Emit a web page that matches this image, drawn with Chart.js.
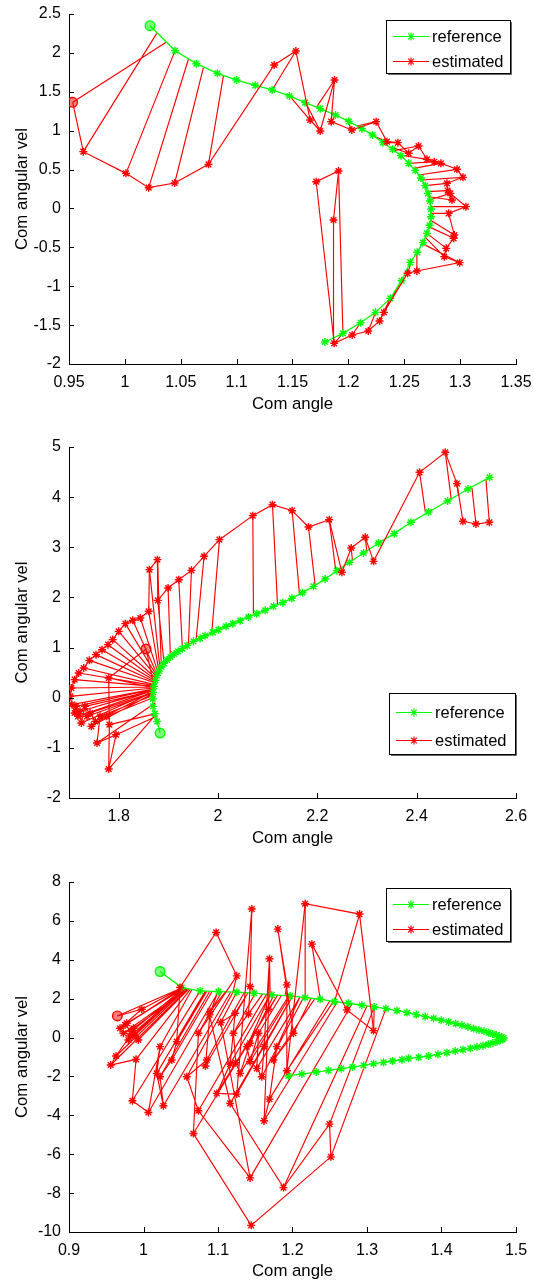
<!DOCTYPE html>
<html>
<head>
<meta charset="utf-8">
<script src="https://cdn.jsdelivr.net/npm/chart.js@4.4.0/dist/chart.umd.min.js"></script>
<style>
html,body{margin:0;padding:0;background:#fff;}
canvas{position:absolute;left:0;}
</style>
</head>
<body>
<canvas id="c1" width="534" height="428" style="top:0px"></canvas>
<canvas id="c2" width="534" height="428" style="top:428px"></canvas>
<canvas id="c3" width="534" height="428" style="top:856px"></canvas>
<script>
// ---------------- Plot 1 data ----------------
const p1RefX = [1.0225,1.0449,1.0640,1.0828,1.0999,1.1166,1.1318,1.1473,1.1613,1.1748,1.1885,1.2004,1.2121,1.2216,1.2309,1.2396,1.2470,1.2539,1.2599,1.2649,1.2688,1.2712,1.2730,1.2739,1.2739,1.2727,1.2703,1.2667,1.2616,1.2554,1.2476,1.2375,1.2243,1.2109,1.1951,1.1790];
const p1RefY = [2.350,2.029,1.861,1.737,1.651,1.583,1.523,1.446,1.360,1.283,1.201,1.120,1.026,0.944,0.846,0.760,0.679,0.580,0.490,0.391,0.293,0.194,0.096,-0.007,-0.106,-0.217,-0.320,-0.440,-0.564,-0.693,-0.929,-1.156,-1.336,-1.469,-1.606,-1.717];
const p1EstX = [0.9533,0.9628,1.0010,1.0213,1.0446,1.0748,1.1336,1.1530,1.1658,1.1748,1.1876,1.1846,1.2031,1.2249,1.2345,1.2443,1.2539,1.2628,1.2703,1.2769,1.2828,1.2972,1.3025,1.2882,1.2888,1.2927,1.2912,1.3052,1.2897,1.2948,1.2942,1.2876,1.2858,1.2996,1.2613,1.2530,1.2318,1.2279,1.2178,1.2034,1.1873,1.1712,1.1912,1.1867];
const p1EstY = [1.364,0.730,0.451,0.267,0.327,0.567,1.844,2.024,1.137,0.996,1.651,1.116,1.009,1.116,0.859,0.846,0.709,0.803,0.631,0.601,0.580,0.503,0.400,0.323,0.229,0.109,0.194,0.023,-0.063,-0.341,-0.384,-0.513,-0.620,-0.697,-0.804,-0.834,-1.336,-1.447,-1.576,-1.627,-1.734,0.344,0.481,-0.149];
const p1LinkX = [1.0369,1.0285,1.0449,1.0569,1.0703,1.0882,null,1.1318,1.1473,1.1613,1.1718,1.1885,1.1987,1.2076,1.2225,1.2309,1.2375,1.2404,1.2464,1.2539,1.2584,1.2628,1.2658,1.2688,1.2703,1.2718,1.2727,1.2733,1.2739,1.2733,1.2718,1.2703,1.2688,1.2658,1.2613,1.2569,1.2494,1.2375,1.2243,1.2109,1.1951,null,1.1951,1.1867];
const p1LinkY = [2.136,2.251,2.029,1.921,1.814,1.707,null,1.523,1.446,1.373,1.309,1.201,1.137,1.060,0.931,0.846,0.794,0.743,0.687,0.580,0.516,0.430,0.366,0.293,0.216,0.151,0.109,0.023,-0.063,-0.149,-0.234,-0.320,-0.371,-0.449,-0.564,-0.663,-0.877,-1.156,-1.336,-1.469,-1.606,null,-1.606,-1.720];
const p1XTicks = [0.95,1,1.05,1.1,1.15,1.2,1.25,1.3,1.35];
const p1XLabels = ['0.95','1','1.05','1.1','1.15','1.2','1.25','1.3','1.35'];
const p1YTicks = [-2,-1.5,-1,-0.5,0,0.5,1,1.5,2,2.5];
const p1YLabels = ['-2','-1.5','-1','-0.5','0','0.5','1','1.5','2','2.5'];

// ---------------- Plot 2 data ----------------
const p2RefX = [1.8834,1.8773,1.8726,1.8693,1.8686,1.8693,1.8713,1.8740,1.8773,1.8813,1.8860,1.8914,1.8975,1.9042,1.9116,1.9196,1.9284,1.9378,1.9505,1.9640,1.9740,1.9895,2.0009,2.0163,2.0298,2.0446,2.0613,2.0781,2.0949,2.1117,2.1305,2.1487,2.1701,2.1923,2.2158,2.2393,2.2648,2.2931,2.3233,2.3548,2.3884,2.4240,2.4623,2.5033,2.5469];
const p2RefY = [-0.704,-0.471,-0.318,-0.172,-0.026,0.107,0.227,0.346,0.446,0.533,0.613,0.686,0.753,0.812,0.872,0.925,0.978,1.038,1.124,1.184,1.237,1.304,1.357,1.424,1.477,1.537,1.610,1.676,1.743,1.822,1.896,1.982,2.095,2.221,2.368,2.534,2.700,2.886,3.086,3.272,3.498,3.704,3.923,4.162,4.395];
const p2EstX = [1.8551,1.7799,1.7813,1.7799,1.7947,1.7564,1.7625,1.7759,1.7450,1.7531,1.7423,1.7363,1.7322,1.7249,1.7222,1.7181,1.7141,1.7114,1.7060,1.7027,1.7047,1.7114,1.7195,1.7296,1.7410,1.7544,1.7665,1.7786,1.7880,1.8001,1.8135,1.8283,1.8437,1.8605,1.8619,1.8780,1.8787,1.8995,1.9210,1.9465,1.9720,2.0029,2.0701,2.1097,2.1493,2.1822,2.2239,2.2494,2.2682,2.2964,2.3132,2.4059,2.4576,2.4811,2.4932,2.5194,2.5463];
const p2EstY = [0.972,0.393,-0.537,-1.422,-0.737,-0.903,-0.371,-0.371,-0.571,-0.471,-0.305,-0.371,-0.172,-0.504,-0.271,-0.371,-0.172,-0.305,-0.139,0.028,0.194,0.360,0.493,0.593,0.745,0.859,0.958,1.058,1.158,1.324,1.477,1.543,1.590,1.723,2.554,2.753,1.942,2.188,2.354,2.540,2.820,3.152,3.631,3.850,3.730,3.405,3.551,2.501,2.986,3.199,2.720,4.495,4.894,4.269,3.518,3.464,3.498];
const p2LinkX = [1.8719,1.8726,1.8753,1.8746,1.8766,1.8733,1.8726,1.8740,1.8713,1.8713,1.8706,1.8699,1.8706,1.8699,1.8699,1.8693,1.8699,1.8693,1.8699,1.8706,1.8713,1.8719,1.8726,1.8733,1.8740,1.8746,1.8753,1.8760,1.8766,1.8773,1.8780,1.8787,1.8800,1.8813,1.8834,1.8860,1.8914,1.9042,1.9284,1.9404,1.9559,1.9875,2.0714,2.1198,2.1641,2.1957,2.2373,null,2.2709,2.2998,null,2.4173,2.4697,2.4845,null,2.5113,2.5395];
const p2LinkY = [0.194,0.194,-0.318,-0.338,-0.371,-0.105,0.060,0.020,0.094,0.127,0.110,0.094,0.140,0.127,0.150,0.147,0.170,0.161,0.174,0.194,0.214,0.227,0.240,0.260,0.293,0.307,0.327,0.347,0.373,0.400,0.413,0.440,0.480,0.513,0.559,0.613,0.686,0.812,0.978,1.045,1.158,1.304,1.656,1.856,2.055,2.235,2.520,null,2.720,2.906,null,3.717,3.950,4.029,null,4.182,4.349];
const p2XTicks = [1.8,2,2.2,2.4,2.6];
const p2XLabels = ['1.8','2','2.2','2.4','2.6'];
const p2YTicks = [-2,-1,0,1,2,3,4,5];
const p2YLabels = ['-2','-1','0','1','2','3','4','5'];

// ---------------- Plot 3 data ----------------
const p3RefX = [1.0222,1.0513,1.0760,1.1006,1.1252,1.1485,1.1722,1.1969,1.2170,1.2372,1.2564,1.2752,1.2931,1.3097,1.3254,1.3402,1.3536,1.3661,1.3782,1.3894,1.3997,1.4096,1.4190,1.4275,1.4355,1.4431,1.4503,1.4570,1.4633,1.4687,1.4736,1.4776,1.4808,1.4834,1.4821,1.4790,1.4745,1.4691,1.4628,1.4557,1.4476,1.4387,1.4288,1.4185,1.4073,1.3952,1.3827,1.3693,1.3558,1.3469,1.3343,1.3222,1.3088,1.2954,1.2806,1.2654,1.2484,1.2318,1.2125,1.1946];
const p3RefY = [3.397,2.572,2.400,2.366,2.332,2.280,2.194,2.143,2.057,1.971,1.851,1.765,1.662,1.576,1.490,1.387,1.284,1.181,1.078,0.992,0.889,0.803,0.717,0.631,0.546,0.460,0.391,0.322,0.253,0.185,0.133,0.082,0.030,-0.021,-0.090,-0.142,-0.210,-0.279,-0.348,-0.416,-0.485,-0.554,-0.622,-0.691,-0.777,-0.863,-0.949,-1.018,-1.069,-1.138,-1.206,-1.275,-1.344,-1.430,-1.516,-1.601,-1.687,-1.773,-1.876,-1.962];
const p3EstX = [0.9649,0.9976,0.9685,0.9775,0.9752,0.9842,0.9797,0.9887,0.9730,0.9864,0.9931,0.9819,0.9631,0.9560,0.9900,0.9851,1.0066,1.0222,1.0178,1.0267,1.0222,1.0379,1.0446,1.0491,1.0975,1.1252,1.0737,1.0670,1.1445,1.2515,1.2497,1.1879,1.1163,1.0885,1.0894,1.0831,1.0849,1.0581,1.0737,1.1431,1.1037,1.1230,1.1163,1.0984,1.1252,1.1454,1.1431,1.1409,1.1207,1.1239,1.1297,1.1431,1.1387,1.1431,1.1543,1.1521,1.1588,1.1619,1.1691,1.1678,1.1619,1.1691,1.1790,1.1745,1.2013,1.1803,1.1924,1.1924,1.2170,1.2900,1.3088,1.2730,1.2260];
const p3EstY = [1.112,1.456,0.477,0.734,0.649,0.305,-0.124,0.133,0.219,0.477,-0.124,0.082,-0.949,-1.413,-1.121,-3.250,-3.852,-0.468,-1.842,-3.508,-2.014,-1.155,-0.210,2.572,5.406,3.174,0.219,-4.934,-9.657,-6.136,-4.453,-7.716,-3.388,1.164,1.336,-1.464,-1.155,-2.014,-3.766,-7.218,0.769,1.250,-1.361,-2.872,-2.907,6.609,2.624,1.215,0.219,-1.292,-1.842,-0.296,-0.468,-1.241,0.219,-1.584,-2.014,-0.468,4.050,1.456,-4.281,-3.165,-0.468,-1.155,0.219,5.578,2.710,-1.705,6.884,6.351,0.357,1.422,4.805];
const p3LinkX = [1.0527,1.0527,1.0536,1.0545,1.0527,1.0536,1.0545,1.0558,1.0572,1.0590,1.0607,1.0558,1.0572,1.0590,1.0625,1.0760,1.1006,1.0650,1.0830,1.1170,1.0890,1.0920,1.0850,null,null,1.1200,1.1050,1.1800,null,1.3254,1.3097,1.3000,1.2000,1.1000,1.1100,1.1400,1.1350,1.1200,1.1650,1.2800,1.1250,1.1400,1.1700,1.1800,1.2000,null,1.1500,1.1600,1.1500,1.1800,1.1950,1.1750,1.1700,1.1970,1.1850,1.2100,1.2150,1.2000,1.1700,1.1800,1.2600,1.2500,1.2100,1.2300,1.2250,null,1.1900,1.2550,1.2170,1.2564,1.3097,1.2752,1.2372];
const p3LinkY = [2.572,2.572,2.555,2.538,2.572,2.555,2.538,2.521,2.504,2.486,2.486,2.521,2.504,2.486,2.469,2.400,2.366,2.470,2.390,2.340,2.380,2.370,2.390,null,null,2.335,2.360,2.180,null,1.490,1.576,1.620,2.130,2.370,2.350,2.290,2.300,2.335,2.220,1.740,2.330,2.290,2.200,2.180,2.130,null,2.280,2.250,2.280,2.180,2.150,2.190,2.200,2.140,2.160,2.080,2.070,2.130,2.200,2.180,1.830,1.880,2.080,2.000,2.020,null,2.150,1.860,2.057,1.851,1.576,1.765,1.971];
const p3XTicks = [0.9,1,1.1,1.2,1.3,1.4,1.5];
const p3XLabels = ['0.9','1','1.1','1.2','1.3','1.4','1.5'];
const p3YTicks = [-10,-8,-6,-4,-2,0,2,4,6,8];
const p3YLabels = ['-10','-8','-6','-4','-2','0','2','4','6','8'];

const seriesNames = ['reference','estimated'];
const xTitle = 'Com angle';
const yTitle = 'Com angular vel';

// ---------------- styling / helpers ----------------
const GREEN = '#00ff00', RED = '#ff0000';
const FONT = "'Liberation Sans', Arial, Helvetica, sans-serif";
Chart.defaults.font.family = FONT;
Chart.defaults.font.size = 16;
Chart.defaults.color = '#000';

function pts(xs, ys) { return xs.map((x, i) => ({x: x, y: ys[i]})); }
function linkPts(ex, ey, lx, ly) {
  const out = [];
  ex.forEach((x, i) => {
    if (lx[i] === null) return;
    out.push({x: x, y: ey[i]}, {x: lx[i], y: ly[i]}, {x: x, y: null});
  });
  return out;
}

const inwardTicks = {
  id: 'inwardTicks',
  afterDatasetsDraw(chart) {
    const {ctx, chartArea: a, scales} = chart;
    ctx.save();
    ctx.strokeStyle = '#000';
    ctx.lineWidth = 1;
    ctx.beginPath();
    scales.x.ticks.forEach(t => {
      const px = Math.round(scales.x.getPixelForValue(t.value)) + 0.5;
      ctx.moveTo(px, a.bottom); ctx.lineTo(px, a.bottom - 5);
    });
    scales.y.ticks.forEach(t => {
      const py = Math.round(scales.y.getPixelForValue(t.value)) + 0.5;
      ctx.moveTo(a.left, py); ctx.lineTo(a.left + 5, py);
    });
    ctx.stroke();
    ctx.restore();
  }
};

const boxLegend = {
  id: 'boxLegend',
  afterDraw(chart, args, o) {
    const ctx = chart.ctx;
    const items = chart.data.datasets.filter(d => d.label);
    ctx.save();
    ctx.fillStyle = '#fff';
    ctx.fillRect(o.x, o.y, o.w, o.h);
    ctx.strokeStyle = '#000';
    ctx.lineWidth = 1;
    ctx.strokeRect(o.x + 0.5, o.y + 0.5, o.w, o.h);
    ctx.strokeStyle = '#666';
    ctx.beginPath();
    ctx.moveTo(o.x + o.w + 1.5, o.y + 2); ctx.lineTo(o.x + o.w + 1.5, o.y + o.h + 1.5); ctx.lineTo(o.x + 2, o.y + o.h + 1.5);
    ctx.stroke();
    items.forEach((d, i) => {
      const cy = o.y + o.rows[i];
      ctx.strokeStyle = d.borderColor;
      ctx.lineWidth = 1.2;
      ctx.beginPath();
      ctx.moveTo(o.x + 7, cy + 0.5); ctx.lineTo(o.x + 43, cy + 0.5);
      ctx.stroke();
      Chart.helpers.drawPoint(ctx, {pointStyle: 'star', radius: 4, borderWidth: 1.4}, o.x + 25, cy + 0.5);
      ctx.fillStyle = '#000';
      ctx.font = "16.5px " + FONT;
      ctx.textBaseline = 'middle';
      ctx.textAlign = 'left';
      ctx.fillText(d.label, o.x + 46, cy + 1);
    });
    ctx.restore();
  }
};

function makeChart(id, cfg) {
  const ref = pts(cfg.refX, cfg.refY);
  const est = pts(cfg.estX, cfg.estY);
  const links = linkPts(cfg.estX, cfg.estY, cfg.linkX, cfg.linkY);
  const markStyle = (col, fill) => ({
    pointStyle: c => c.dataIndex === 0 ? 'circle' : 'star',
    pointRadius: c => c.dataIndex === 0 ? 4.8 : 4,
    pointBackgroundColor: c => c.dataIndex === 0 ? fill : col,
    pointBorderColor: col,
    pointBorderWidth: 1.4
  });
  return new Chart(document.getElementById(id), {
    type: 'scatter',
    data: {
      datasets: [
        Object.assign({label: seriesNames[0], data: ref, showLine: true, borderColor: GREEN, backgroundColor: GREEN, borderWidth: 1.3, order: 2}, markStyle(GREEN, 'rgba(0,255,0,0.5)')),
        Object.assign({label: seriesNames[1], data: est, showLine: true, borderColor: RED, backgroundColor: RED, borderWidth: 1.15, order: 1}, markStyle(RED, 'rgba(255,0,0,0.5)')),
        {data: links, showLine: true, spanGaps: false, borderColor: RED, borderWidth: 1.15, pointRadius: 0, order: 3}
      ]
    },
    options: {
      responsive: false,
      animation: false,
      events: [],
      layout: {padding: {top: cfg.padTop, right: 18, bottom: 0, left: 0}},
      plugins: {
        legend: {display: false},
        tooltip: {enabled: false},
        boxLegend: cfg.legend
      },
      scales: {
        x: {
          type: 'linear', min: cfg.xMin, max: cfg.xMax,
          grid: {display: false, drawTicks: false},
          border: {display: true, color: '#000', width: 1},
          afterBuildTicks: s => { s.ticks = cfg.xTicks.map(v => ({value: v})); },
          afterFit: s => { s.height = cfg.xH; s.paddingLeft = 0; s.paddingRight = 0; },
          ticks: {padding: 9, maxRotation: 0, autoSkip: false, color: '#000', font: {size: 16},
                  callback: (v, i) => cfg.xLabels[i]},
          title: {display: true, text: xTitle, color: '#000', font: {size: 16.8}, padding: {top: 0, bottom: cfg.xTitlePad}}
        },
        y: {
          type: 'linear', min: cfg.yMin, max: cfg.yMax,
          grid: {display: false, drawTicks: false},
          border: {display: true, color: '#000', width: 1},
          afterBuildTicks: s => { s.ticks = cfg.yTicks.map(v => ({value: v})); },
          afterFit: s => { s.width = 69; s.paddingTop = 0; s.paddingBottom = 0; },
          ticks: {padding: 8, autoSkip: false, color: '#000', font: {size: 16},
                  callback: (v, i) => cfg.yLabels[i]},
          title: {display: true, text: yTitle, color: '#000', font: {size: 16.8}, padding: {top: 12, bottom: 0}}
        }
      }
    },
    plugins: [inwardTicks, boxLegend]
  });
}

makeChart('c1', {
  refX: p1RefX, refY: p1RefY, estX: p1EstX, estY: p1EstY, linkX: p1LinkX, linkY: p1LinkY,
  xMin: 0.95, xMax: 1.35, yMin: -2, yMax: 2.5,
  xTicks: p1XTicks, xLabels: p1XLabels, yTicks: p1YTicks, yLabels: p1YLabels,
  padTop: 14, xH: 64, xTitlePad: 14,
  legend: {x: 386, y: 20, w: 124, h: 53, rows: [16, 41]}
});
makeChart('c2', {
  refX: p2RefX, refY: p2RefY, estX: p2EstX, estY: p2EstY, linkX: p2LinkX, linkY: p2LinkY,
  xMin: 1.7, xMax: 2.6, yMin: -2, yMax: 5,
  xTicks: p2XTicks, xLabels: p2XLabels, yTicks: p2YTicks, yLabels: p2YLabels,
  padTop: 19, xH: 58, xTitlePad: 8,
  legend: {x: 389, y: 265, w: 126, h: 61, rows: [19, 47]}
});
makeChart('c3', {
  refX: p3RefX, refY: p3RefY, estX: p3EstX, estY: p3EstY, linkX: p3LinkX, linkY: p3LinkY,
  xMin: 0.9, xMax: 1.5, yMin: -10, yMax: 8,
  xTicks: p3XTicks, xLabels: p3XLabels, yTicks: p3YTicks, yLabels: p3YLabels,
  padTop: 26, xH: 52, xTitlePad: 3,
  legend: {x: 386, y: 32, w: 124, h: 53, rows: [16, 41]}
});
</script>
</body>
</html>
